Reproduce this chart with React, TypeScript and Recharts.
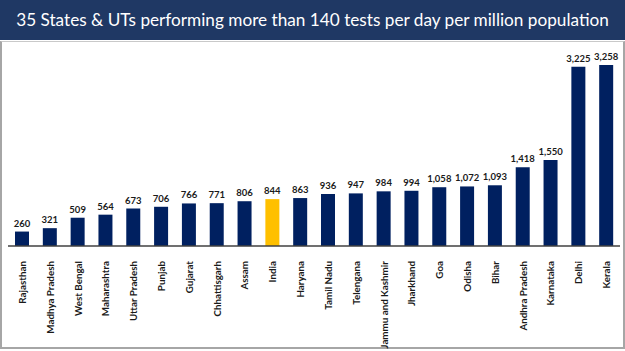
import { Bar, BarChart, Cell, LabelList, XAxis, YAxis } from "recharts"

const states = [
  "Rajasthan", "Madhya Pradesh", "West Bengal", "Maharashtra", "Uttar Pradesh", "Punjab",
  "Gujarat", "Chhattisgarh", "Assam", "India", "Haryana", "Tamil Nadu", "Telengana",
  "Jammu and Kashmir", "Jharkhand", "Goa", "Odisha", "Bihar", "Andhra Pradesh",
  "Karnataka", "Delhi", "Kerala",
]

const testsPerMillion = [
  260, 321, 509, 564, 673, 706, 766, 771, 806, 844, 863, 936, 947, 984, 994,
  1058, 1072, 1093, 1418, 1550, 3225, 3258,
]

const highlight = "India"

const data = states.map((name, i) => ({ name, value: testsPerMillion[i] }))

const font = "Lato, 'Open Sans', sans-serif"

const StateTick = (props: any) => {
  const { x, y, payload } = props
  return (
    <text
      x={x}
      y={y + 7}
      transform={`rotate(-90, ${x}, ${y + 7})`}
      textAnchor="end"
      dominantBaseline="central"
      fontSize={9.8}
      fontWeight={700}
      fontFamily={font}
      fill="#1a1a1a"
    >
      {payload.value}
    </text>
  )
}

export default function App() {
  return (
    <div style={{ position: "absolute", left: 0, top: 0, width: 625, height: 351, background: "#fff", overflow: "hidden" }}>
      <div
        style={{
          height: 40,
          background: "#1f3864",
          color: "#fff",
          fontFamily: font,
          fontSize: 17.2,
          lineHeight: "40px",
          textAlign: "center",
          whiteSpace: "nowrap",
        }}
      >
        35 States &amp; UTs performing more than 140 tests per day per million population
      </div>
      <div
        style={{
          position: "absolute",
          left: 0,
          top: 41,
          width: 621,
          height: 305,
          border: "2px solid #a6a6a6",
          borderTop: "1px solid #c9c9c9",
        }}
      />
      <div style={{ position: "absolute", left: 0, top: 40 }}>
        <BarChart
          width={625}
          height={311}
          data={data}
          margin={{ top: 6, right: 5, left: 8, bottom: 3 }}
          barCategoryGap={0}
          style={{ overflow: "visible" }}
        >
          <XAxis
            dataKey="name"
            interval={0}
            height={102}
            tickLine={false}
            axisLine={{ stroke: "#404040", strokeWidth: 1.5 }}
            tick={<StateTick />}
          />
          <YAxis hide domain={[0, 3600]} />
          <Bar dataKey="value" barSize={14} isAnimationActive={false}>
            {data.map((d) => (
              <Cell key={d.name} fill={d.name === highlight ? "#ffc000" : "#002060"} />
            ))}
            <LabelList
              dataKey="value"
              position="top"
              offset={5}
              formatter={(v: any) => Number(v).toLocaleString("en-US")}
              style={{ fontSize: 9.5, fontWeight: 700, fontFamily: font, fill: "#1a1a1a" }}
            />
          </Bar>
        </BarChart>
      </div>
    </div>
  )
}
